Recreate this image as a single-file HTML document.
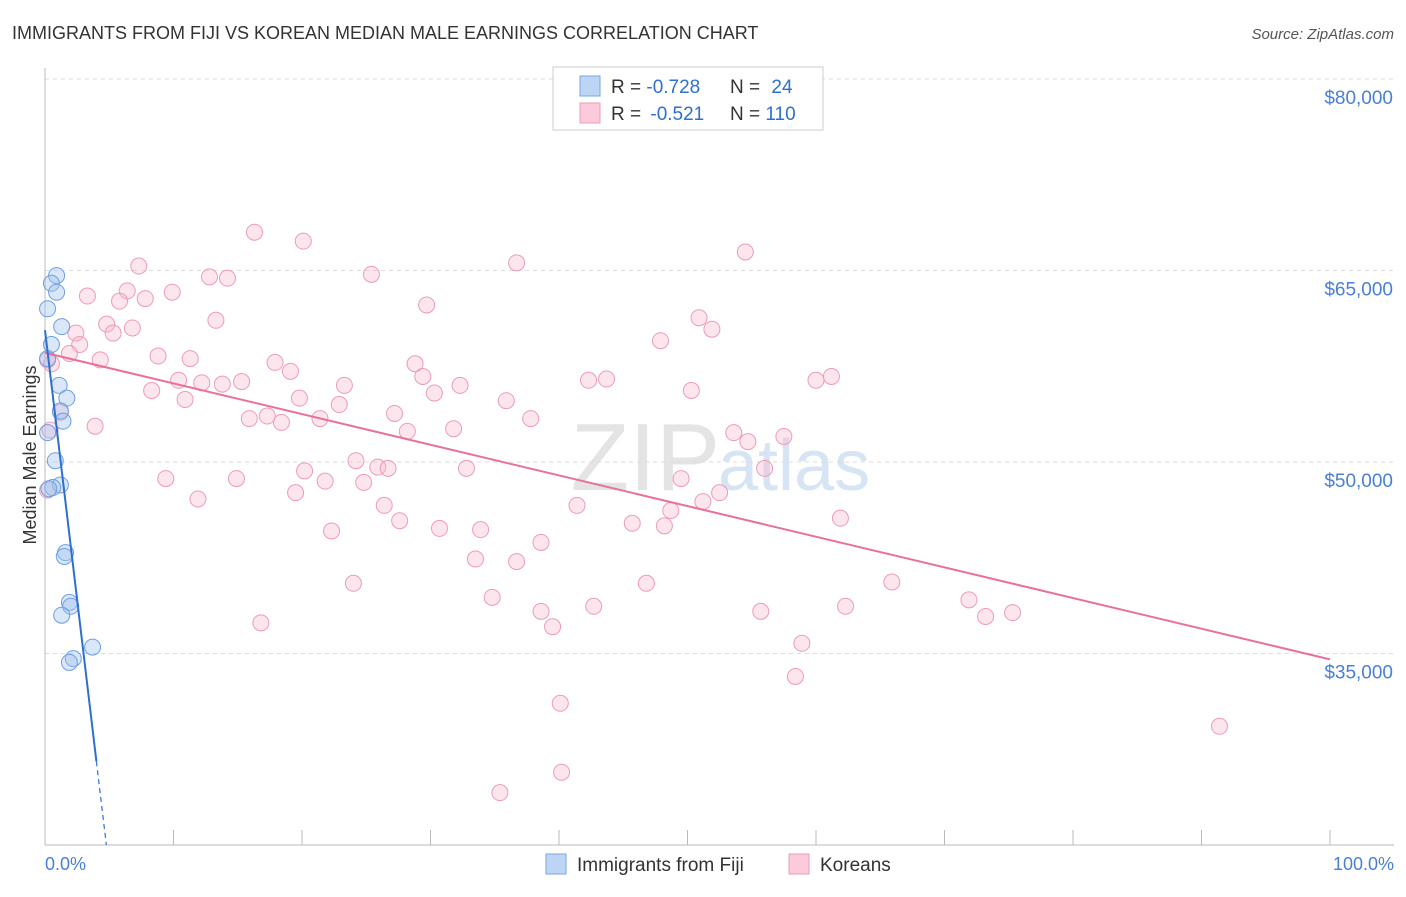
<!DOCTYPE html>
<html><head><meta charset="utf-8"><style>
body{margin:0;background:#fff;font-family:"Liberation Sans",sans-serif;}
svg text{font-family:"Liberation Sans",sans-serif;}
</style></head><body>
<svg id="chart" width="1406" height="892">
<text x="12" y="39" font-size="18" fill="#333">IMMIGRANTS FROM FIJI VS KOREAN MEDIAN MALE EARNINGS CORRELATION CHART</text>
<text x="1394" y="39" font-size="15" fill="#555" font-style="italic" text-anchor="end">Source: ZipAtlas.com</text>
<text x="720" y="490" font-size="96" fill="#e4e4e4" text-anchor="end" font-family="Liberation Serif">ZIP</text>
<text x="718" y="490" font-size="72" fill="#d7e4f3">atlas</text>
<g id="grid"></g><g id="axes"></g><g id="pts"></g><g id="lines"></g>
<text x="36" y="455" font-size="18" fill="#333" text-anchor="middle" transform="rotate(-90 36 455)">Median Male Earnings</text>
<text x="45" y="870" font-size="18" fill="#4a7fd6">0.0%</text>
<text x="1394" y="870" font-size="18" fill="#4a7fd6" text-anchor="end">100.0%</text>
<g>
<rect x="553" y="67" width="270" height="63" fill="#fff" stroke="#ccc"/>
<rect x="580" y="76" width="20" height="20" fill="#bcd5f5" stroke="#7aa6e3"/>
<rect x="580" y="103" width="20" height="20" fill="#fbcadb" stroke="#eb9cb7"/>
<text x="611" y="93" font-size="19" fill="#333">R = <tspan fill="#2f6fd0">-0.728</tspan></text>
<text x="730" y="93" font-size="19" fill="#333">N = <tspan fill="#2f6fd0" dx="6">24</tspan></text>
<text x="611" y="120" font-size="19" fill="#333">R = <tspan fill="#2f6fd0" dx="4">-0.521</tspan></text>
<text x="730" y="120" font-size="19" fill="#333">N = <tspan fill="#2f6fd0">110</tspan></text>
</g>
<g>
<rect x="546" y="854" width="20" height="20" fill="#bcd5f5" stroke="#7aa6e3"/>
<text x="577" y="871" font-size="19" fill="#333">Immigrants from Fiji</text>
<rect x="789" y="854" width="20" height="20" fill="#fbcadb" stroke="#eb9cb7"/>
<text x="820" y="871" font-size="19" fill="#333">Koreans</text>
</g>
</svg>
<script>
const yTicks=[80000,65000,50000,35000];
const yTickLabels=["$80,000","$65,000","$50,000","$35,000"];
const xTicks=[0,10,20,30,40,50,60,70,80,90,100];
const fijiX=[0.9,0.5,0.9,0.2,1.3,0.5,0.2,1.1,1.7,1.2,1.4,0.2,0.8,1.2,0.6,1.6,1.5,1.9,2.0,1.3,3.7,2.2,1.9,0.3];
const fijiY=[64600,64000,63300,62000,60600,59200,58100,56000,55000,54000,53200,52300,50100,48200,48000,42900,42600,39000,38700,38000,35500,34600,34300,47900];
const korX=[16.3,20.1,54.5,7.3,36.7,25.4,12.8,14.2,9.9,6.4,3.3,7.8,5.8,29.7,13.3,50.9,51.9,4.8,6.8,5.3,2.4,47.9,2.7,1.9,8.8,11.3,4.3,17.9,28.8,0.5,19.1,29.4,10.4,12.2,13.8,15.3,42.3,43.7,60.0,61.2,32.3,23.3,8.3,50.3,30.3,10.9,19.8,35.9,22.9,27.2,15.9,17.3,18.4,21.4,37.8,1.2,3.9,28.2,31.8,53.6,57.5,54.7,56.0,24.2,20.2,25.9,26.7,32.8,9.4,14.9,21.8,24.8,49.5,52.5,19.5,11.9,51.2,26.4,41.4,48.7,61.9,27.6,45.7,48.2,30.7,33.9,22.3,38.6,33.5,36.7,24.0,46.8,65.9,34.8,71.9,42.7,62.3,38.6,55.7,73.2,75.3,16.8,39.5,58.9,58.4,40.1,91.4,40.2,35.4,0.2,0.4,0.2];
const korY=[68000,67300,66450,65350,65600,64700,64500,64400,63300,63400,63000,62800,62600,62300,61100,61300,60400,60800,60500,60100,60100,59500,59200,58500,58300,58100,58000,57800,57700,57700,57100,56700,56400,56200,56100,56300,56400,56500,56400,56700,56000,56000,55600,55600,55400,54900,55000,54800,54500,53800,53400,53600,53100,53400,53400,53900,52800,52400,52600,52300,52000,51600,49500,50100,49300,49600,49500,49500,48700,48700,48500,48400,48700,47600,47600,47100,46900,46600,46600,46200,45600,45400,45200,45000,44800,44700,44600,43700,42400,42200,40500,40500,40600,39400,39200,38700,38700,38300,38300,37900,38200,37400,37100,35800,33200,31100,29300,25700,24100,47800,52500,58000];
const NS="http://www.w3.org/2000/svg";
const X=p=>45+p*12.85, Y=v=>79+(80000-v)*191.5/15000;
function mk(parent,tag,attrs){const e=document.createElementNS(NS,tag);for(const k in attrs)e.setAttribute(k,attrs[k]);document.getElementById(parent).appendChild(e);return e;}
yTicks.forEach((v,i)=>{
 const l=mk('grid','line',{x1:45,x2:1394,y1:Y(v),y2:Y(v),stroke:'#ddd','stroke-dasharray':'4,4'});
 
 
 const t=mk('grid','text',{x:1393,y:Y(v)+25,'font-size':19,fill:'#4a7fd6','text-anchor':'end'});t.textContent=yTickLabels[i];
 
 
});
const ax=mk('axes','line',{x1:45,x2:1394,y1:845,y2:845,stroke:'#bbb'});


const ay=mk('axes','line',{x1:45,x2:45,y1:68,y2:845,stroke:'#bbb'});


xTicks.forEach(p=>{const t=mk('axes','line',{x1:X(p),x2:X(p),y1:830,y2:845,stroke:'#bbb'});
 
 });
korX.forEach((x,i)=>{const c=mk('pts','circle',{cx:X(x),cy:Y(korY[i]),r:8,fill:'rgba(248,180,202,0.35)',stroke:'#eb9cb7','stroke-width':1});
 
 });
fijiX.forEach((x,i)=>{const c=mk('pts','circle',{cx:X(x),cy:Y(fijiY[i]),r:8,fill:'rgba(160,195,240,0.4)',stroke:'#6f9fe0','stroke-width':1});
 
 });
function fit(xs,ys){const n=xs.length;let mx=0,my=0;for(let i=0;i<n;i++){mx+=xs[i];my+=ys[i];}mx/=n;my/=n;let sxy=0,sxx=0;for(let i=0;i<n;i++){sxy+=(xs[i]-mx)*(ys[i]-my);sxx+=(xs[i]-mx)**2;}const b=sxy/sxx;return[my-b*mx,b];}
const [ka,kb]=fit(korX,korY);
const kl=mk('lines','line',{x1:X(0),y1:Y(ka),x2:X(100),y2:Y(ka+kb*100),stroke:'#e8719b','stroke-width':2});


const [fa,fb]=fit(fijiX,fijiY);
const fEnd=4.0, fBot=(80000-(845-79)*15000/191.5-fa)/fb;
const fl=mk('lines','line',{x1:X(0),y1:Y(fa),x2:X(fEnd),y2:Y(fa+fb*fEnd),stroke:'#2f6fd0','stroke-width':2});


const fd=mk('lines','line',{x1:X(fEnd),y1:Y(fa+fb*fEnd),x2:X(fBot),y2:845,stroke:'#2f6fd0','stroke-width':1.2,'stroke-dasharray':'5,4'});


</script>
</body></html>
